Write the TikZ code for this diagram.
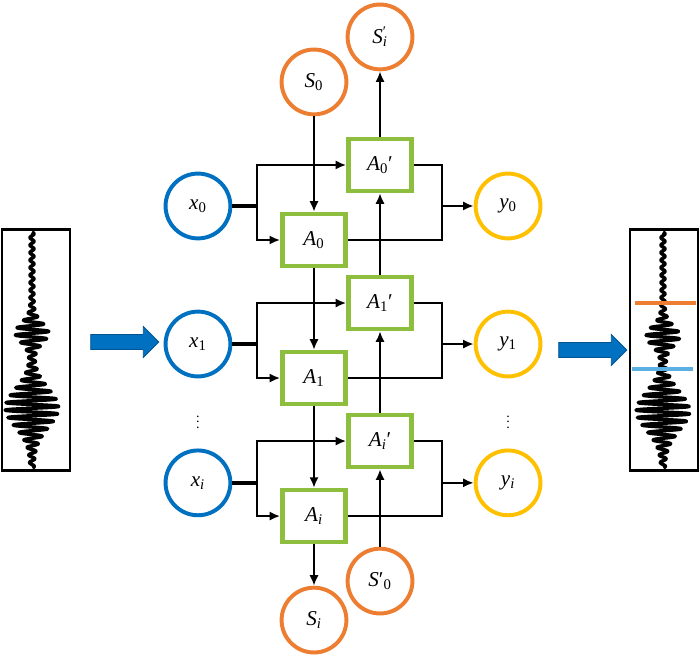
\documentclass[tikz,border=0pt]{standalone}
\usepackage{fontspec}
\setmainfont{Liberation Serif}
\usepackage{tikz}
\usetikzlibrary{positioning, arrows.meta, shapes.arrows, calc}

\definecolor{inblue}{RGB}{0,112,192}
\definecolor{stateorange}{RGB}{237,125,49}
\definecolor{outyellow}{RGB}{255,192,0}
\definecolor{cellgreen}{RGB}{141,190,61}
\definecolor{cutblue}{RGB}{91,176,226}

% seismic trace: #1 = centre x, #2 = shift of the wave packets
\newcommand{\waveplot}[2]{%
  \draw [line width=2.5pt, line join=round]
    plot [variable=\t, domain=232:468, samples=600]
    ({#1 + (2 + 15*exp(-(((\t-333-#2)/14)^2)) + 25*exp(-(((\t-408-#2)/27)^2)))*sin(48*(\t-232))}, \t);}

\begin{document}
\begin{tikzpicture}[x=0.025cm, y=-0.025cm, on grid]
				\tikzset{arrow/.style={-{Latex[length=7.5pt, width=6.5pt]}, line width=1.4pt}}
				\tikzset{wire/.style={line width=1.4pt}}
				\tikzset{stub/.style={line width=2.8pt}}
				\tikzset{Cell/.style={draw=cellgreen, line width=3.2pt, rectangle, fill=white, minimum width=1.58cm, minimum height=1.3cm, inner sep=0pt, font=\fontsize{15}{17}\selectfont}}
				\tikzset{Ring/.style={circle, line width=2.8pt, fill=white, minimum size=1.62cm, inner sep=0pt, font=\fontsize{15}{17}\selectfont}}
				\tikzset{Input/.style={Ring, draw=inblue}}
				\tikzset{Output/.style={Ring, draw=outyellow}}
				\tikzset{State/.style={Ring, draw=stateorange}}
				\tikzset{TraceBox/.style={draw, line width=2pt, minimum width=1.7cm, minimum height=6.03cm, inner sep=0pt}}
				\tikzset{BlockArrow/.style={single arrow, fill=inblue, draw=inblue!75!black, line width=0.6pt, minimum height=1.7cm, inner sep=0.175cm, single arrow head extend=0.2cm}}

				\useasboundingbox (0,0) rectangle (700,656);

				% Forward cells
				\node (fw0) [Cell] at (314,240) {\textit{A}\textsubscript{0}};
				\node (fw1) [Cell, below=3.45cm of fw0] {\textit{A}\textsubscript{1}};
				\node (fwi) [Cell, below=3.45cm of fw1] {\textit{A}\textsubscript{\textit{i}}};

				% Backward cells
				\node (bw0) [Cell, above right=1.875cm and 1.65cm of fw0] {\textit{A}\textsubscript{0}′};
				\node (bw1) [Cell, above right=1.875cm and 1.65cm of fw1] {\textit{A}\textsubscript{1}′};
				\node (bwi) [Cell, above right=1.875cm and 1.65cm of fwi] {\textit{A}\textsubscript{\textit{i}}′};

				% Inputs and outputs
				\node (x0) [Input, above left=0.85cm and 2.9cm of fw0] {\textit{x}\textsubscript{0}};
				\node (x1) [Input, below=3.45cm of x0] {\textit{x}\textsubscript{1}};
				\node (xi) [Input, below=3.47cm of x1] {\textit{x}\textsubscript{\textit{i}}};
				\node (y0) [Output, right=7.75cm of x0] {\textit{y}\textsubscript{0}};
				\node (y1) [Output, right=7.75cm of x1] {\textit{y}\textsubscript{1}};
				\node (yi) [Output, right=7.75cm of xi] {\textit{y}\textsubscript{\textit{i}}};
				\node (xdots) [below=1.85cm of x1, inner sep=0pt] {$\vdots$};
				\node (ydots) [below=1.85cm of y1, inner sep=0pt] {$\vdots$};

				% States
				\node (S0) [State, above=3.95cm of fw0] {\textit{S}\textsubscript{0}};
				\node (Si) [State, below=2.6cm of fwi] {\textit{S}\textsubscript{\textit{i}}};
				\node (Sip) [State, above=3.2cm of bw0] {\textit{S}\rlap{\textsuperscript{′}}\textsubscript{\textit{i}}};
				\node (S0p) [State, below=3.5cm of bwi] {\textit{S}′\textsubscript{0}};

				% Forward chain
				\draw [arrow] (S0) -- (fw0);
				\draw [arrow] (fw0) -- (fw1);
				\draw [arrow] (fw1) -- (fwi);
				\draw [arrow] (fwi) -- (Si);

				% Backward chain
				\draw [arrow] (S0p) -- (bwi);
				\draw [arrow] (bwi) -- (bw1);
				\draw [arrow] (bw1) -- (bw0);
				\draw [arrow] (bw0) -- (Sip);

				% Rows
				\foreach \r in {0,1,i} {
					\draw [stub] (x\r.east) -- ++(0.62cm,0) coordinate (b\r);
					\draw [arrow] (b\r) |- (bw\r.west);
					\draw [arrow] (b\r) |- (fw\r.west);
					\draw [arrow] (y\r.west) ++(-0.78cm,0) coordinate (c\r) -- (y\r.west);
					\draw [wire] (bw\r.east) -| (c\r) |- (fw\r.east);
				}

				% Traces
				\waveplot{32}{0}
				\waveplot{663}{3}
				\node (inbox) [TraceBox] at (36,350) {};
				\node (outbox) [TraceBox] at (664,350) {};
				\draw [stateorange, line width=2.2pt] (635,303) -- (696,303);
				\draw [cutblue, line width=2.2pt] (632,369) -- (693,369);

				\node (inarrow) [BlockArrow] at (121,342) {};
				\node (outarrow) [BlockArrow] at (589,350) {};

			\end{tikzpicture}
\end{document}
